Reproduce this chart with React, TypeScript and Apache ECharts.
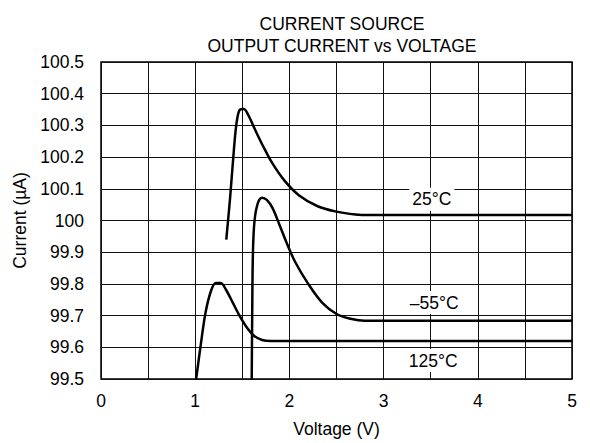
import React, { useEffect, useRef } from "react";
import * as echarts from "echarts";

const titleLines = ["CURRENT SOURCE", "OUTPUT CURRENT vs VOLTAGE"];
const xName = "Voltage (V)";
const yName = "Current (µA)";

const curve25: [number, number][] = [
  [1.33, 99.94], [1.37, 100.07], [1.41, 100.22], [1.44, 100.31], [1.475, 100.35],
  [1.515, 100.352], [1.56, 100.335], [1.63, 100.29], [1.72, 100.235], [1.82, 100.18],
  [1.95, 100.125], [2.1, 100.08], [2.3, 100.045], [2.5, 100.028], [2.7, 100.019],
  [2.85, 100.017], [5, 100.017],
];
const curveM55: [number, number][] = [
  [1.6, 99.5], [1.605, 99.7], [1.613, 99.9], [1.63, 100.0], [1.665, 100.055],
  [1.71, 100.072], [1.76, 100.065], [1.82, 100.04], [1.89, 99.99], [1.97, 99.93],
  [2.06, 99.87], [2.2, 99.8], [2.35, 99.74], [2.5, 99.705], [2.65, 99.69],
  [2.8, 99.684], [5, 99.684],
];
const curve125: [number, number][] = [
  [1.01, 99.5], [1.06, 99.61], [1.11, 99.71], [1.17, 99.78], [1.22, 99.803],
  [1.27, 99.803], [1.33, 99.78], [1.4, 99.74], [1.47, 99.7], [1.55, 99.662],
  [1.63, 99.635], [1.71, 99.623], [1.8, 99.62], [5, 99.62],
];
const labelTexts = ["25°C", "–55°C", "125°C"];
const labelCoords: [number, number][] = [[3.512, 100.067], [3.537, 99.741], [3.526, 99.558]];

export default function App() {
  const ref = useRef<HTMLDivElement>(null);
  useEffect(() => {
    document.body.style.margin = "0";
    document.body.style.overflow = "hidden";
    const chart = echarts.init(ref.current!, null, { renderer: "svg" });
    const font = "Arial, 'Liberation Sans', sans-serif";
    const fs = 17.5;
    const mkSeries = (data: [number, number][], idx: number) => ({
      type: "line",
      data,
      smooth: 0.35,
      showSymbol: false,
      symbol: "none",
      lineStyle: { color: "#000", width: 2.5 },
      z: 3,
      markPoint: {
        symbol: "rect",
        symbolSize: 0,
        data: [{ coord: labelCoords[idx] }],
        label: {
          show: true,
          position: "inside",
          formatter: labelTexts[idx],
          color: "#000",
          fontSize: fs,
          fontFamily: font,
          backgroundColor: "#fff",
          padding: [3, 3, 2, 3],
        },
        z: 5,
      },
    });
    chart.setOption({
      animation: false,
      backgroundColor: "#fff",
      title: {
        text: titleLines.join("\n"),
        left: 337,
        textAlign: "center",
        top: 8,
        textStyle: { fontSize: fs, fontWeight: "normal", color: "#000", fontFamily: font, lineHeight: 22 },
      },
      grid: { left: 101, right: 18, top: 62, bottom: 62, show: true, borderColor: "#000", borderWidth: 1.5 },
      xAxis: {
        type: "value",
        min: 0,
        max: 5,
        interval: 0.5,
        name: xName,
        nameLocation: "middle",
        nameGap: 41,
        nameTextStyle: { fontSize: fs, color: "#000", fontFamily: font },
        axisLine: { show: false },
        axisTick: { show: false },
        axisLabel: {
          margin: 13,
          fontSize: fs,
          color: "#000",
          fontFamily: font,
          formatter: (v: number) => (Math.abs(v - Math.round(v)) < 1e-6 ? String(Math.round(v)) : ""),
        },
        splitLine: { show: true, lineStyle: { color: "#111", width: 1 } },
      },
      yAxis: {
        type: "value",
        min: 99.5,
        max: 100.5,
        interval: 0.1,
        name: yName,
        nameLocation: "middle",
        nameGap: 65,
        nameTextStyle: { fontSize: fs, color: "#000", fontFamily: font },
        axisLine: { show: false },
        axisTick: { show: false },
        axisLabel: {
          margin: 17,
          fontSize: fs,
          color: "#000",
          fontFamily: font,
          formatter: (v: number) => String(Math.round(v * 10) / 10),
        },
        splitLine: { show: true, lineStyle: { color: "#111", width: 1 } },
      },
      series: [mkSeries(curve25, 0), mkSeries(curveM55, 1), mkSeries(curve125, 2)],
    });
    return () => chart.dispose();
  }, []);
  return <div ref={ref} style={{ width: 590, height: 443 }} />;
}
